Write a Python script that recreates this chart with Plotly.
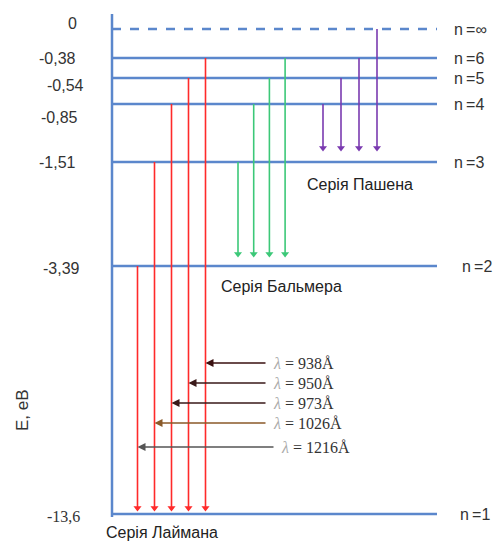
import plotly.graph_objects as go

# ---- data -------------------------------------------------------------
level_n = ["∞", "6", "5", "4", "3", "2", "1"]
level_energy = ["0", "-0,38", "-0,54", "-0,85", "-1,51", "-3,39", "-13,6"]
# schematic (not-to-scale) vertical placement of each level in the diagram
level_pos = [29, 58, 78, 104, 162, 266, 514]

lyman_from = ["2", "3", "4", "5", "6"]
balmer_from = ["3", "4", "5", "6"]
paschen_from = ["4", "5", "6", "∞"]
lyman_wavelength = ["1216", "1026", "973", "950", "938"]

series_names = ["Серія Лаймана", "Серія Бальмера", "Серія Пашена"]
axis_title = "E, еВ"

# ---- layout helpers ---------------------------------------------------
pos = dict(zip(level_n, level_pos))
BLUE = "#5b87cc"
RED = "#ff2a2a"
GREEN = "#3cc878"
PURPLE = "#7a3ab0"
X_AXIS = 112
X_END = 437

fig = go.Figure()

# vertical energy axis
fig.add_trace(go.Scatter(x=[X_AXIS, X_AXIS], y=[14, 517], mode="lines",
                         line=dict(color=BLUE, width=2.5), hoverinfo="skip"))

# energy levels
for n, y in zip(level_n, level_pos):
    fig.add_trace(go.Scatter(
        x=[X_AXIS, X_END], y=[y, y], mode="lines",
        line=dict(color=BLUE, width=2.5, dash="dash" if n == "∞" else "solid"),
        hoverinfo="skip"))

def series(froms, to, x0, dx, color, tip_gap):
    xs, ys, tx, ty = [], [], [], []
    for i, n in enumerate(froms):
        x = x0 + i * dx
        xs += [x, x, None]
        ys += [pos[n], pos[to] - tip_gap, None]
        tx.append(x)
        ty.append(pos[to] - tip_gap - 2)
    fig.add_trace(go.Scatter(x=xs, y=ys, mode="lines",
                             line=dict(color=color, width=1.6), hoverinfo="skip"))
    fig.add_trace(go.Scatter(x=tx, y=ty, mode="markers",
                             marker=dict(symbol="triangle-down", size=7, color=color),
                             hoverinfo="skip"))
    return tx

lyman_x = series(lyman_from, "1", 137.5, 17, RED, 4)
series(balmer_from, "2", 238, 15.7, GREEN, 10)
series(paschen_from, "3", 323, 18, PURPLE, 12)

# level labels (n)
label_x = [452, 452, 452, 452, 452, 460, 458]
for n, y, lx in zip(level_n, level_pos, label_x):
    fig.add_annotation(x=lx, y=y, text="n\u2009=" + n,
                       showarrow=False, xanchor="left", yanchor="middle",
                       font=dict(family="Liberation Sans", size=16, color="#333"))

# energy labels
e_shift = [6, 0, -7, -13, 0, -2, -2]
e_x = [79, 78, 86, 80, 78, 82, 82]
for i, (e, y) in enumerate(zip(level_energy, level_pos)):
    fam = "Liberation Serif" if e == "-13,6" else "Liberation Sans"
    fig.add_annotation(x=e_x[i], y=y, text=e, showarrow=False,
                       xanchor="right", yanchor="middle", yshift=e_shift[i],
                       font=dict(family=fam, size=16, color="#333"))

# wavelength arrows for the Lyman lines
wl_y = [447, 423, 403, 383, 363]
wl_color = ["#555555", "#8a5a2a", "#3a1a1a", "#3a1a1a", "#3a1010"]
wl_start = [275, 267, 267, 267, 267]
for w, lx, y, c, xs in zip(lyman_wavelength, lyman_x, wl_y, wl_color, wl_start):
    fig.add_annotation(x=lx, y=y, ax=xs, ay=y, axref="x", ayref="y",
                       xref="x", yref="y", text="", showarrow=True,
                       arrowhead=2, arrowsize=1, arrowwidth=1.6, arrowcolor=c)
    fig.add_annotation(x=xs + 4, y=y, text='<span style="color:#aaa"><i>λ</i></span> = ' + w + "Å",
                       showarrow=False, xanchor="left", yanchor="middle",
                       font=dict(family="Liberation Serif", size=16, color="#333"))

# series names
series_xy = [(162, 532), (281, 286), (360, 184)]
for name, (sx, sy) in zip(series_names, series_xy):
    fig.add_annotation(x=sx, y=sy, text=name, showarrow=False,
                       xanchor="center", yanchor="middle",
                       font=dict(family="Liberation Sans", size=16, color="#222"))

# axis title
fig.add_annotation(x=22, y=410, text=axis_title, showarrow=False, textangle=-90,
                   xanchor="center", yanchor="middle",
                   font=dict(family="Liberation Sans", size=17, color="#333"))

fig.update_layout(
    width=495, height=542, showlegend=False,
    margin=dict(l=0, r=0, t=0, b=0),
    paper_bgcolor="white", plot_bgcolor="white",
    xaxis=dict(range=[0, 495], visible=False, fixedrange=True),
    yaxis=dict(range=[542, 0], visible=False, fixedrange=True),
)

fig.write_html("out.html", config={"displayModeBar": False},
               post_script="document.body.style.margin='0';document.body.style.overflow='hidden';")
